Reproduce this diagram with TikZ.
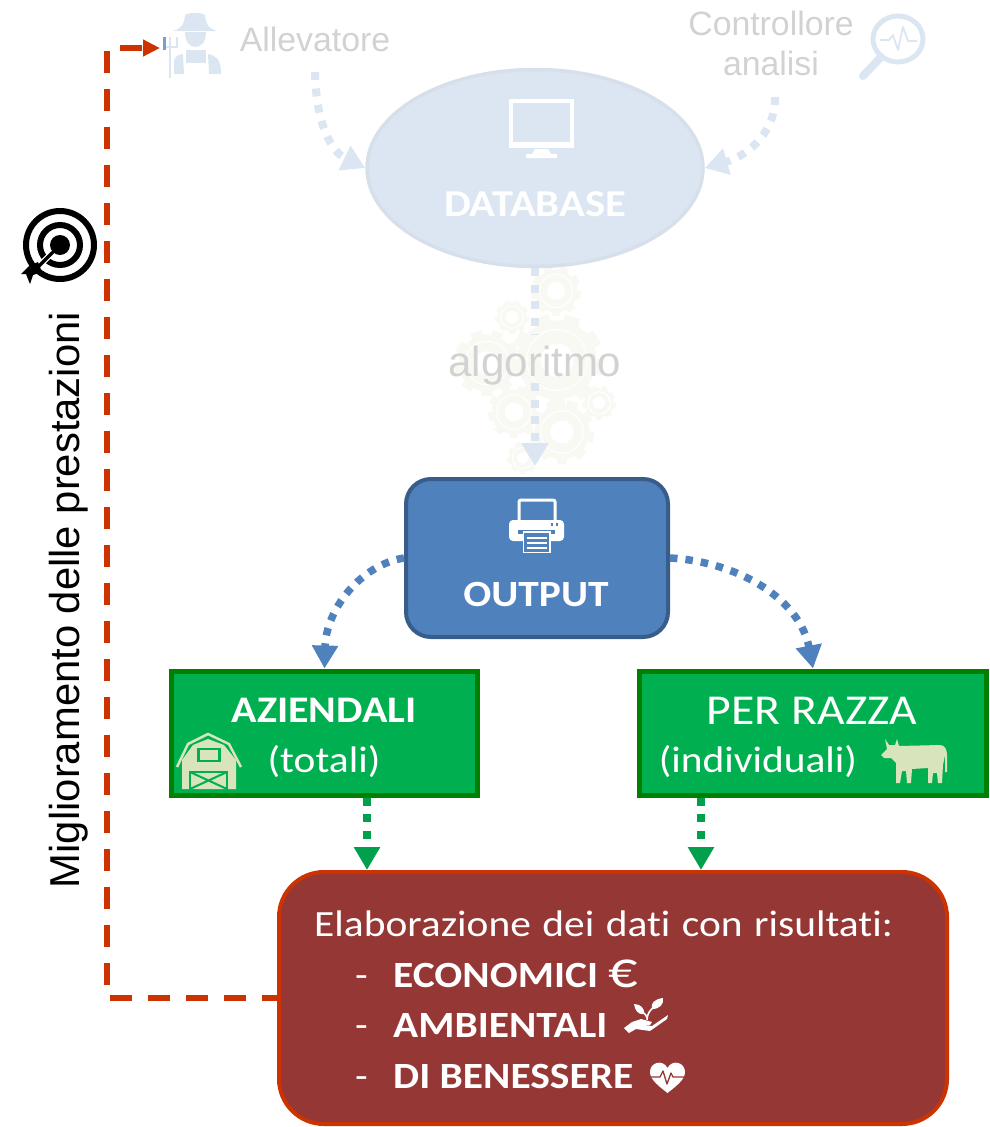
\documentclass[tikz,border=0pt]{standalone}
\usepackage{fontspec}
\setmainfont{Carlito}[FakeStretch=1.12,Ligatures=NoCommon]
\newfontfamily\arialf{Liberation Sans}
\usetikzlibrary{arrows.meta,shapes.geometric,calc}
\definecolor{paleblue}{HTML}{DCE6F2}
\definecolor{paleedge}{HTML}{D6DFEA}
\definecolor{fadetext}{HTML}{D2D2D2}
\definecolor{outblue}{HTML}{4F81BD}
\definecolor{outedge}{HTML}{385D8A}
\definecolor{boxgreen}{HTML}{00B050}
\definecolor{boxedge}{HTML}{008000}
\definecolor{arrgreen}{HTML}{00A04C}
\definecolor{boxred}{HTML}{953735}
\definecolor{rededge}{HTML}{CC3300}
\definecolor{cream}{HTML}{D8E4BC}
\definecolor{palegear}{HTML}{F7F9F2}
\tikzset{
  fadeflow/.style={draw=paleblue,line width=8pt,dash pattern=on 8pt off 8.5pt,-{Triangle[length=23pt,width=26pt,fill=paleblue]}},
  fadeplain/.style={draw=paleblue,line width=8pt,dash pattern=on 8pt off 8.5pt},
  blueflow/.style={draw=outblue,line width=7.5pt,dash pattern=on 7.5pt off 8pt,-{Triangle[length=23pt,width=25pt,fill=outblue]}},
  greenflow/.style={draw=arrgreen,line width=8pt,dash pattern=on 8pt off 8.5pt,-{Triangle[length=23pt,width=25pt,fill=arrgreen]}},
  redflow/.style={draw=rededge,line width=6pt,dash pattern=on 22pt off 16pt,dash phase=7pt,-{Triangle[length=17pt,width=16pt,fill=rededge]}},
  greenbox/.style={rectangle,draw=boxedge,fill=boxgreen,line width=5pt,inner sep=0pt,minimum width=#1,minimum height=124pt},
  labelA/.style={font=\arialf\fontsize{33.8}{40}\selectfont,text=fadetext,inner sep=0pt},
  labelB/.style={text=white,inner sep=0pt,font=\fontsize{37}{44}\selectfont},
  labelR/.style={text=white,inner sep=0pt,anchor=base west,font=\fontsize{37}{40}\selectfont},
  labelRb/.style={text=white,inner sep=0pt,anchor=base west,font=\bfseries\fontsize{37}{40}\selectfont},
}
\newcommand{\gearicon}[3]{%
  \begin{scope}[shift={(#1,#2)}]
    \foreach \a in {0,40,...,320}{\fill[palegear,rotate=\a] (-#3*.17,0) rectangle (#3*.17,#3);}
    \fill[palegear] (0,0) circle[radius=#3*.86];
    \draw[white,line width=1.2pt] (0,0) circle[radius=#3*.66];
    \fill[white] (0,0) circle[radius=#3*.36];
  \end{scope}}
\begin{document}
\begin{tikzpicture}[x=1pt,y=-1pt]
\useasboundingbox (0,0) rectangle (989,1127);
% gears
\gearicon{556}{291}{25}
\gearicon{512}{317}{17}
\gearicon{487}{363}{33}
\gearicon{557}{360}{46}
\gearicon{514}{412}{26}
\gearicon{562}{432}{32}
\gearicon{599}{403}{17}
\gearicon{523}{458}{16}
% shapes
\node[ellipse,draw=paleedge,fill=paleblue,line width=3.5pt,minimum width=336pt,minimum height=197pt,inner sep=0pt] (db) at (535,168) {};
\node[rectangle,rounded corners=25pt,draw=outedge,fill=outblue,line width=4pt,minimum width=262pt,minimum height=158pt,inner sep=0pt] (out) at (537,558) {};
\node[greenbox=306pt] (az) at (324.5,733) {};
\node[greenbox=347pt] (razza) at (813,733) {};
\node[rectangle,rounded corners=45pt,draw=rededge,fill=boxred,line width=4pt,minimum width=668pt,minimum height=252pt,inner sep=0pt] (elab) at (613,998) {};
% labels
\node[labelA,anchor=base] (allev) at (315,51) {Allevatore};
\node[labelA,anchor=base] (contr) at (771,35) {Controllore};
\node[labelA,anchor=base] (anal) at (771,75) {analisi};
\node[labelA,font=\arialf\fontsize{42}{44}\selectfont,anchor=base] (algo) at (535,376) {algoritmo};
\node[font=\bfseries\fontsize{38}{40}\selectfont,text=white,inner sep=0pt,anchor=base] (dbt) at (535,216) {DATABASE};
\node[font=\bfseries\fontsize{37}{40}\selectfont,text=white,inner sep=0pt,anchor=base] (outt) at (536,606) {OUTPUT};
\node[font=\bfseries\fontsize{37.5}{40}\selectfont,text=white,inner sep=0pt,anchor=base] (azt) at (324,722) {AZIENDALI};
\node[labelB,anchor=base] (tot) at (324,772) {(totali)};
\node[labelB,font=\fontsize{42.6}{44}\selectfont,anchor=base] (razt) at (812,724) {PER RAZZA};
\node[labelB,anchor=base] (ind) at (758,772) {(individuali)};
\node[labelR] (el1) at (314,936) {\spaceskip=11.5pt\relax Elaborazione dei dati con risultati:};
\node[labelR] (d1) at (355,987) {-};
\node[labelR] (d2) at (355,1037) {-};
\node[labelR] (d3) at (355,1088) {-};
\node[labelRb] (eco) at (393,987) {ECONOMICI};
\node[labelR,font=\fontsize{52}{52}\selectfont] (euro) at (608,987) {€};
\node[labelRb] (amb) at (393,1037) {AMBIENTALI};
\node[labelRb] (ben) at (393,1088) {DI BENESSERE};
\node[font=\arialf\fontsize{41.8}{44}\selectfont,text=black,inner sep=0pt,rotate=90,anchor=base] (migl) at (79,600) {Miglioramento delle prestazioni};
% connectors
\coordinate (a1) at (315,72);
\coordinate (a2) at (775,97);
\coordinate (f1) at (160,48);
\coordinate (c1) at (107,48);
\coordinate (c2) at (107,998);
\coordinate (al1) at (535,335);
\coordinate (al2) at (535,383);
\draw[fadeflow] (a1) .. controls (316,125) and (332,152) .. (db.west);
\draw[fadeflow] (a2) .. controls (776,130) and (750,155) .. (db.east);
\draw[fadeplain] (db.south) -- (al1);
\draw[fadeflow] (al2) -- ($(out.north)+(-2,-11)$);
\draw[blueflow] (out.west) .. controls (360,565) and (326,610) .. (az.north);
\draw[blueflow] (out.east) .. controls (740,562) and (800,600) .. (razza.north);
\draw[greenflow] (az.south -| 367,0) -- (elab.north -| 367,0);
\draw[greenflow] (razza.south -| 701,0) -- (elab.north -| 701,0);
\draw[redflow] (elab.west) -- (c2) -- (c1) -- (f1);
% farmer
\begin{scope}[paleblue]
  \fill (173,31) .. controls (182,28) and (184,25) .. (185,15) .. controls (190,12) and (200,12) .. (205,15) .. controls (206,25) and (208,28) .. (217,31) -- cycle;
  \fill (185,32) -- (206,32) .. controls (206,42) and (201,47) .. (195.5,47) .. controls (190,47) and (185,42) .. (185,32) -- cycle;
  \fill (174,74) -- (174,62) .. controls (174,57) and (177,55) .. (183,54) -- (184,74) -- cycle;
  \fill (208,54) .. controls (216,56) and (221,58) .. (221,74) -- (209,74) -- cycle;
  \fill (186,50) rectangle (206,63);
  \draw[line width=2.5pt] (170,50) -- (170,78);
  \draw[line width=1.5pt] (165,37) -- (165,47) -- (177,47) -- (177,37);
  \draw[line width=1.5pt] (170,37) -- (170,50);
\end{scope}
\fill[outblue!70!paleblue] (163,37) rectangle (166,50);
% magnifier
\draw[paleblue,line width=5pt] (898,39) ellipse[x radius=25,y radius=23];
\draw[paleblue,line width=8pt,line cap=round] (881,57) -- (863,76);
\draw[paleblue,line width=1.8pt,line join=round] (880,40) -- (889,40) -- (893,35) -- (898,50) -- (903,27) -- (908,41) -- (917,41);
% monitor
\draw[white,line width=4pt] (511,101) rectangle (572,146);
\fill[white] (509,142) rectangle (574,148);
\fill[white] (535,149) -- (548,149) -- (551,154) -- (557,154) -- (557,158) -- (526,158) -- (526,154) -- (532,154) -- cycle;
% printer
\draw[white,line width=3pt,rounded corners=2pt] (519,520) -- (519,500) -- (555,500) -- (555,520);
\fill[white,rounded corners=4pt] (509,520) rectangle (564,541);
\fill[outblue] (518,530) rectangle (555,534);
\fill[outblue] (551,523) rectangle (553,526);
\fill[outblue] (556,523) rectangle (558,526);
\draw[white,line width=1.6pt,fill=outblue] (523.5,532) rectangle (550,552.5);
\foreach \yy in {537,542,547}{\fill[white] (527,\yy) rectangle (546.5,\yy+1.8);}
% barn
\fill[cream] (182,760) -- (193,745) -- (208,739) -- (224,745) -- (236,760) -- (236,789) -- (182,789) -- cycle;
\draw[cream,line width=2.5pt,line join=round] (177,767) -- (188,744) -- (208,734) -- (229,744) -- (241,767);
\draw[boxgreen,line width=2.5pt,fill=cream] (198.5,749) rectangle (219.5,761);
\draw[boxgreen,line width=2.2pt] (190,772) rectangle (227,791);
\draw[boxgreen,line width=2pt] (190,772) -- (227,789) (227,772) -- (190,789);
% cow
\fill[cream] (881,755) -- (887,749) -- (885,739) -- (889,745) -- (895,745) -- (897,739) -- (899,746) -- (940,745) .. controls (945,745) and (947,750) .. (947,755) -- (947,772) -- (945,772) -- (945,755) -- (943,765) -- (942,783) -- (938,783) -- (937,773) -- (933,773) -- (932,783) -- (928,783) -- (928,768) -- (912,769) -- (911,783) -- (907,783) -- (906,771) -- (902,771) -- (900,783) -- (896,783) -- (896,763) -- (891,758) -- (884,758) -- cycle;
% target
\draw[black,line width=6pt] (60,245) circle[radius=34];
\draw[black,line width=6pt] (60,245) circle[radius=20];
\fill[black] (60,245) circle[radius=10];
\draw[white,line width=6pt] (53,252) -- (33,272);
\draw[black,line width=3.5pt] (60,245) -- (34,271);
\fill[black] (38,262) -- (42,272) -- (33,275) -- (30,284) -- (26,274) -- (21,274) -- (29,266) -- cycle;
% hand with plant
\fill[white] (624,1028) -- (632,1022) -- (641,1019) -- (652,1022) -- (650,1025) -- (641,1025) -- (652,1026) -- (668,1015) -- (667,1019) -- (650,1031) -- (636,1029) -- (629,1033) -- cycle;
\draw[white,line width=1.6pt] (647,1020) .. controls (647,1014) and (650,1010) .. (654,1007);
\draw[white,line width=1.6pt] (647,1018) .. controls (646,1014) and (643,1012) .. (640,1011);
\fill[white] (652,1009) .. controls (650,1003) and (655,999) .. (663,998) .. controls (664,1004) and (660,1009) .. (652,1009) -- cycle;
\fill[white] (644,1014) .. controls (637,1015) and (635,1009) .. (634,1004) .. controls (640,1004) and (645,1008) .. (644,1014) -- cycle;
% heart
\fill[white] (667.5,1093) .. controls (660,1087) and (650,1080) .. (650,1072) .. controls (650,1062) and (663,1059) .. (667.5,1068) .. controls (672,1059) and (685,1062) .. (685,1072) .. controls (685,1080) and (675,1087) .. (667.5,1093) -- cycle;
\draw[boxred,line width=1.3pt,line join=round] (651,1077) -- (660,1077) -- (663,1071) -- (667,1084) -- (671,1073) -- (673,1077) -- (684,1077);
\end{tikzpicture}
\end{document}
